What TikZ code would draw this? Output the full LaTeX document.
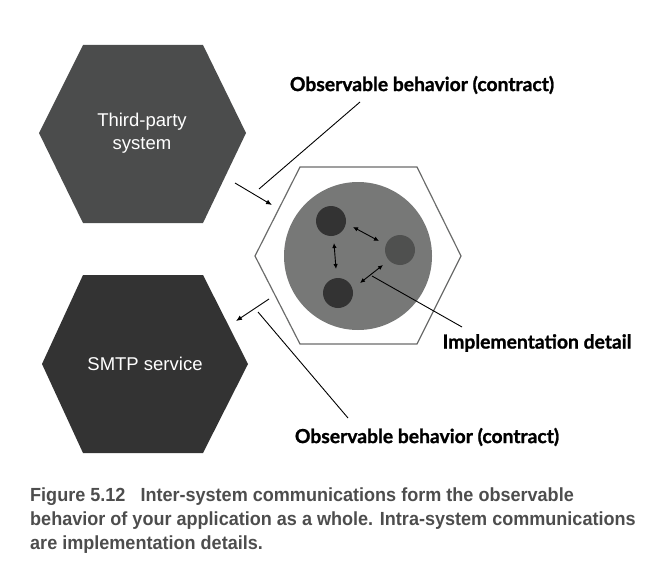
\documentclass[tikz,border=0pt]{standalone}
\usepackage{fontspec}
\setmainfont{Liberation Sans}
\newfontfamily\lblfont[BoldFeatures={FakeBold=1.2}]{Lato}
\newfontfamily\capfont[FakeStretch=0.95]{Liberation Sans}
\usetikzlibrary{arrows.meta}
\definecolor{hexA}{HTML}{4B4C4C}
\definecolor{hexB}{HTML}{333333}
\definecolor{bigc}{HTML}{777877}
\definecolor{dotA}{HTML}{333333}
\definecolor{dotB}{HTML}{4F504F}
\definecolor{capc}{HTML}{4D4D4D}
\tikzset{
  hextext/.style={text=white,align=center,font=\fontsize{18.5}{23}\selectfont},
  lbl/.style={font=\lblfont\bfseries\fontsize{19.3}{22}\selectfont,text=black},
  conn/.style={draw=black,line width=0.9pt},
  arr/.style={conn,-{Latex[length=6pt,width=5pt]}},
  darr/.style={conn,{Latex[length=5pt,width=4.5pt]}-{Latex[length=5pt,width=4.5pt]}},
  dot/.style={circle,minimum size=30pt,inner sep=0pt}
}
\begin{document}
\begin{tikzpicture}[x=1pt,y=-1pt]
\useasboundingbox (0,0) rectangle (668,572);
% left hexagons
\fill[hexA] (39,133) -- (83,45) -- (203,45) -- (246,133) -- (203,223) -- (83,223) -- cycle;
\fill[hexB] (42,364) -- (83,275) -- (203,275) -- (248,364) -- (203,453) -- (83,453) -- cycle;
\node[hextext] (third) at (142,133) {Third-party\\system};
\node[hextext] (smtp) at (145,364) {SMTP service};
% central system
\draw[draw=bigc!90!black,line width=1.2pt] (255,256) -- (300,167) -- (417,167) -- (461,256) -- (417,344) -- (300,344) -- cycle;
\fill[bigc] (358,256) circle (74);
\node[dot,fill=dotA] (d1) at (331,221) {};
\node[dot,fill=dotB] (d2) at (400,250) {};
\node[dot,fill=dotA] (d3) at (338,293) {};
% intra arrows
\coordinate (a1s) at (353,227); \coordinate (a1e) at (379,241);
\coordinate (a2s) at (334,243); \coordinate (a2e) at (336,269);
\coordinate (a3s) at (383,265); \coordinate (a3e) at (360,283);
\draw[darr] (a1s) -- (a1e);
\draw[darr] (a2s) -- (a2e);
\draw[darr] (a3s) -- (a3e);
% labels
\node[lbl] (obs1) at (422,85) {Observable behavior (contract)};
\node[lbl] (obs2) at (427,437) {Observable behavior (contract)};
\node[lbl] (impl) at (537,343) {Implementation detail};
% inter-system arrows
\coordinate (in1) at (235,183); \coordinate (in2) at (272,205);
\draw[arr] (in1) -- (in2);
\coordinate (out1) at (269,299); \coordinate (out2) at (236,321);
\draw[arr] (out1) -- (out2);
% leader lines
\coordinate (l1a) at (259,189); \coordinate (l1b) at (360,102);
\draw[conn] (l1a) -- (l1b);
\coordinate (l2a) at (258,312); \coordinate (l2b) at (348,418);
\draw[conn] (l2a) -- (l2b);
\coordinate (l3a) at (372,276); \coordinate (l3b) at (462,327);
\draw[conn] (l3a) -- (l3b);
% caption
\node[anchor=base west,align=left,text=capc,font=\capfont\bfseries\fontsize{19}{24}\selectfont,inner sep=0pt] (cap) at (30,549)
{Figure 5.12\hspace{10pt} Inter-system communications form the observable\\
behavior of your application as a whole. Intra-system communications\\
are implementation details.};
\end{tikzpicture}
\end{document}
